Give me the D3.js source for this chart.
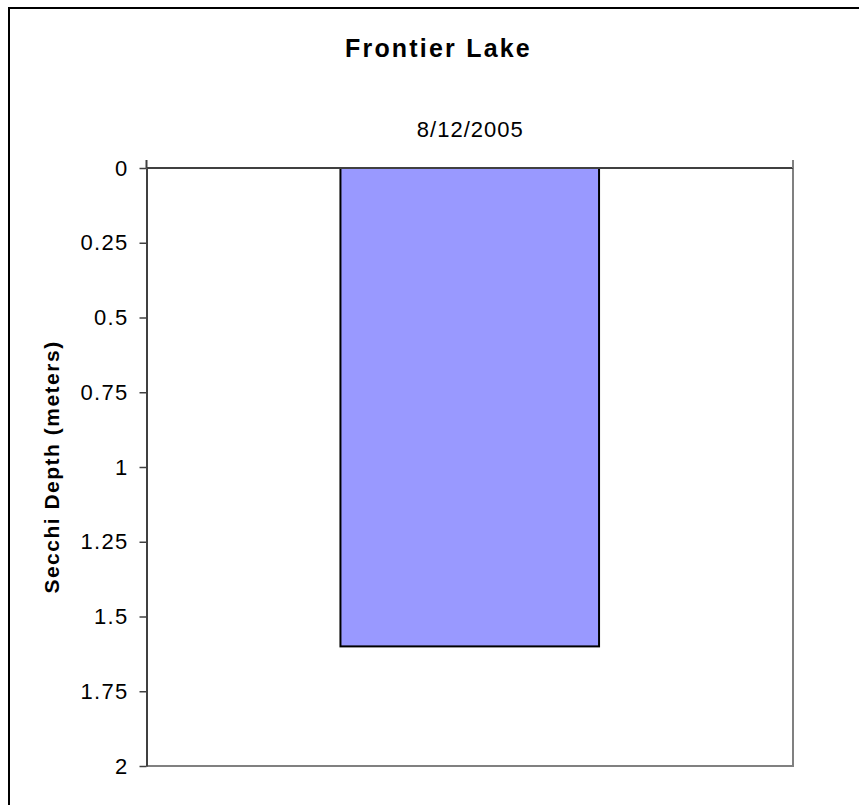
<!DOCTYPE html>
<html>
<head>
<meta charset="utf-8">
<script src="https://cdn.jsdelivr.net/npm/d3@7"></script>
<style>
  html, body { margin: 0; padding: 0; background: #fff; }
  svg { display: block; }
  text { font-family: "Liberation Sans", Arial, sans-serif; fill: #000; }
</style>
</head>
<body>
<svg id="chart" width="859" height="805"></svg>
<script>
// Secchi disk readings for Frontier Lake
const chartTitle = "Frontier Lake";
const yAxisTitle = "Secchi Depth (meters)";
const sampleDates = ["8/12/2005"];
const secchiDepths = [1.6];
const depthTicks = [0, 0.25, 0.5, 0.75, 1, 1.25, 1.5, 1.75, 2];

const svg = d3.select("#chart");
const plot = { left: 146.5, right: 793, top: 168, bottom: 766 };

// Outer chart frame (extends past the visible page on the right and bottom)
svg.append("rect")
  .attr("x", 9).attr("y", 8)
  .attr("width", 880).attr("height", 830)
  .attr("fill", "#fff").attr("stroke", "#000").attr("stroke-width", 2);

// Depth increases downward
const y = d3.scaleLinear().domain([0, 2]).range([plot.top, plot.bottom]);
const x = d3.scaleBand().domain(sampleDates)
  .range([plot.left, plot.right])
  .paddingInner(0).paddingOuter(0.75);

// Plot area border: right and bottom edges in light gray
svg.append("path")
  .attr("d", `M${plot.right},${plot.top}V${plot.bottom}H${plot.left}`)
  .attr("fill", "none").attr("stroke", "#808080").attr("stroke-width", 2);

// Bars
svg.append("g").selectAll("rect")
  .data(sampleDates.map((d, i) => ({ date: d, depth: secchiDepths[i] })))
  .join("rect")
  .attr("x", d => x(d.date))
  .attr("y", y(0))
  .attr("width", x.bandwidth())
  .attr("height", d => y(d.depth) - y(0))
  .attr("fill", "#9999FF")
  .attr("stroke", "#000")
  .attr("stroke-width", 2);

// Vertical depth axis
const yAxis = svg.append("g")
  .attr("transform", `translate(${plot.left},0)`)
  .call(d3.axisLeft(y).tickValues(depthTicks).tickSize(7).tickSizeOuter(0)
    .tickFormat(d => d3.format("")(d)));
yAxis.select(".domain").attr("stroke", "#404040").attr("stroke-width", 2);
yAxis.selectAll(".tick line").attr("stroke", "#404040").attr("stroke-width", 1.5);
yAxis.selectAll(".tick text")
  .attr("x", -18)
  .style("font-size", "22px")
  .style("letter-spacing", "1.3px")
  .style("font-family", "'Liberation Sans', Arial, sans-serif")
  .attr("fill", "#000");

// Category axis along the top edge, ticks at category boundaries
const boundaries = [plot.left, plot.right];
const xAxis = svg.append("g");
xAxis.append("line")
  .attr("x1", plot.left).attr("x2", plot.right)
  .attr("y1", plot.top).attr("y2", plot.top)
  .attr("stroke", "#404040").attr("stroke-width", 2);
xAxis.selectAll("line.tick").data(boundaries).join("line")
  .attr("class", "tick")
  .attr("x1", d => d).attr("x2", d => d)
  .attr("y1", plot.top).attr("y2", plot.top - 8)
  .attr("stroke", d => d === plot.left ? "#404040" : "#808080")
  .attr("stroke-width", 2);
xAxis.selectAll("text").data(sampleDates).join("text")
  .attr("x", d => x(d) + x.bandwidth() / 2 + 0.5)
  .attr("y", 137)
  .attr("text-anchor", "middle")
  .style("font-size", "22px")
  .style("letter-spacing", "1px")
  .text(d => d);

// Titles
svg.append("text")
  .attr("x", 438.5).attr("y", 57)
  .attr("text-anchor", "middle")
  .style("font-size", "25px").style("font-weight", "bold")
  .style("letter-spacing", "2.2px")
  .text(chartTitle);

svg.append("text")
  .attr("transform", `translate(59,467) rotate(-90)`)
  .attr("text-anchor", "middle")
  .style("font-size", "21px").style("font-weight", "bold")
  .style("letter-spacing", "1.5px")
  .text(yAxisTitle);
</script>
</body>
</html>
